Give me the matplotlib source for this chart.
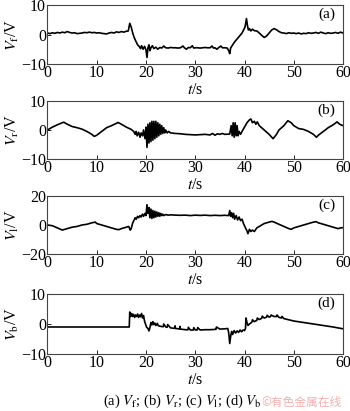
import matplotlib
matplotlib.use("Agg")
import matplotlib.pyplot as plt
import numpy as np

plt.rcParams['font.family'] = ['Liberation Serif', 'DejaVu Serif']
plt.rcParams['mathtext.fontset'] = 'stix'

# ---------------- data ----------------
x_ticks = [0, 10, 20, 30, 40, 50, 60]

vf_t = [0, 0.5, 1, 1.5, 2, 2.5, 3, 3.5, 4, 4.5, 5, 5.5, 6, 6.5, 7, 7.5, 8, 8.5, 9, 9.5,
        10, 10.5, 11, 11.5, 12, 12.5, 13, 13.5, 14, 14.5, 15, 15.5, 16, 16.4, 16.7, 17.0,
        17.3, 17.6, 18.0, 18.3, 18.6, 18.9, 19.1, 19.4, 19.7, 20.0, 20.2, 20.4, 20.6, 20.8,
        21.0, 21.3, 21.6, 22, 22.4, 22.8, 23.2, 23.6, 24, 24.5, 25, 25.5, 26, 26.5, 27,
        27.5, 27.8, 28.2, 28.6, 29, 29.4, 29.7, 30, 30.5, 31, 31.5, 32, 32.5, 33, 33.4,
        33.7, 34, 34.4, 34.8, 35.2, 35.5, 36, 36.5, 36.8, 37.0, 37.2, 37.6, 38, 38.5, 39,
        39.5, 39.8, 40.1, 40.4, 40.6, 40.8, 41.0, 41.3, 41.6, 42, 42.5, 43, 43.5, 44, 44.5,
        45, 45.5, 46, 46.5, 47, 47.5, 48, 48.5, 49, 49.5, 50, 50.5, 51, 51.5, 52, 52.5, 53,
        53.5, 54, 54.5, 55, 55.5, 56, 56.5, 57, 57.5, 58, 58.5, 59, 59.5, 60]
vf_v = [0.5, 0.3, 0.6, 0.4, 0.7, 0.5, 0.8, 0.6, 1.0, 0.7, 0.5, 0.6, 0.3, 0.4, 0.5, 0.7, 0.6, 0.8, 0.6, 0.7,
        0.5, 0.6, 0.4, 0.3, 0.2, 0.5, 0.7, 0.5, 0.9, 0.7, 1.0, 0.8, 1.1, 1.2, 3.8, 2.5,
        0.5, -1.0, -2.5, -3.5, -4.0, -4.8, -3.8, -5.0, -4.0, -5.2, -7.8, -4.5, -3.5, -5.5,
        -4.5, -3.8, -4.8, -4.3, -5.0, -4.4, -4.6, -3.9, -4.5, -4.6, -4.4, -4.5, -4.5, -4.6, -4.5,
        -3.9, -4.5, -5.0, -4.4, -4.5, -3.8, -4.6, -4.5, -4.5, -4.6, -4.5, -4.4, -4.5, -4.5, -3.9,
        -4.6, -4.5, -5.0, -4.4, -3.9, -4.5, -4.5, -4.6, -5.5, -6.5, -4.5, -3.5, -2.5, -1.5, -0.5,
        0.5, 1.5, 2.5, 5.4, 3.0, 1.5, 2.0, 1.2, 1.8, 1.3, 1.2, 0.5, -0.3, -1.0, -0.5,
        0.5, 1.5, 2.0, 1.6, 1.0, 0.6, 0.5, 0.3, 0.6, 0.4, 0.5, 0.3, 0.5, 0.2, 0.4, 0.3, 0.6,
        0.4, 0.5, 0.7, 0.4, 0.8, 0.5, 0.3, 0.6, 0.4, 0.5, 0.7, 0.4, 0.8, 0.5]

vr_t = [0, 1, 2, 3, 3.3, 4, 5, 6, 7, 8, 9, 9.5, 10, 11, 12, 13, 14, 14.3, 15, 16, 17, 17.5,
        17.8, 18.0, 18.2, 18.5, 18.8, 19.0, 19.3, 19.5, 19.8, 20.0, 20.2, 20.4, 20.6, 20.8,
        21.0, 21.2, 21.4, 21.6, 21.8, 22.0, 22.2, 22.4, 22.6, 22.8, 23.0, 23.2, 23.4, 23.6,
        23.8, 24, 24.3, 24.6, 25, 26, 27, 28, 29, 30, 31, 32, 33, 33.5, 34, 34.5, 35, 35.5,
        36, 37, 37.3, 37.5, 37.7, 37.9, 38.1, 38.3, 38.5, 38.7, 38.9, 39.2, 39.5, 40, 40.5,
        41, 41.3, 41.6, 42, 42.3, 42.6, 43, 44, 45, 45.8, 46.5, 47, 48, 48.8, 49.5, 50, 51,
        52, 53, 54, 54.6, 55, 56, 57, 58, 58.8, 59.3, 60]
vr_v = [0, 1.0, 1.8, 2.5, 2.7, 2.0, 1.2, 0.8, 0.3, -0.5, -1.5, -2.2, -1.8, -0.5, 0.8, 1.5, 2.3, 2.6, 2.0, 1.0, 0.2, -0.5,
        -1.5, -0.5, -2.0, -0.8, -2.5, -1.0, -2.0, 0.0, -3.0, 1.0, -6.0, 2.0, -4.5, 2.5,
        -4.0, 3.0, -3.5, 3.0, -3.0, 3.0, -2.5, 2.5, -2.0, 2.0, -1.5, 1.5, -1.2, 0.8,
        -1.0, 0.0, -1.0, -0.5, -1.0, -1.2, -1.3, -1.5, -1.6, -1.7, -1.6, -1.5, -1.7, -1.2, -1.8, -1.3, -1.5, -1.2,
        -1.5, -1.4, 1.5, -2.0, 2.5, -2.5, 2.5, -2.0, 1.5, -2.0, -0.5, -1.5, -0.5, 1.0, 2.5,
        3.5, 3.8, 2.5, 3.0, 2.0, 2.8, 1.5, 0.0, -1.5, -3.0, -1.5, 0.0, 1.5, 3.2, 2.5, 1.5, 0.5,
        0.2, -0.5, -1.5, -2.5, -1.8, -0.5, 0.8, 1.8, 2.8, 2.0, 1.5]

vl_t = [0, 1, 2, 3, 4, 5, 6, 7, 8, 9, 9.7, 10, 11, 12, 13, 14, 14.5, 15, 16, 16.5, 16.8, 17.0,
        17.3, 17.6, 17.8, 18.0, 18.3, 18.5, 18.8, 19.0, 19.3, 19.5, 19.8, 20.0, 20.2, 20.4,
        20.6, 20.8, 21.0, 21.2, 21.4, 21.6, 21.8, 22.0, 22.2, 22.4, 22.6, 22.8, 23.0, 23.2,
        23.4, 23.6, 24, 24.5, 25, 26, 27, 28, 29, 30, 31, 32, 33, 34, 35, 36, 36.8, 37.0,
        37.2, 37.4, 37.6, 37.8, 38.0, 38.3, 38.6, 38.9, 39.2, 39.5, 39.8, 40.2, 40.5, 40.7,
        41.0, 41.3, 41.6, 42.0, 42.5, 43, 44, 45, 45.6, 46, 47, 48, 49, 49.5, 50, 51, 52, 53,
        54, 54.5, 55, 56, 57, 58, 59, 59.5, 60]
vl_v = [0, -0.5, -2.0, -3.5, -2.5, -1.5, -1.0, 0.0, 0.5, 1.5, 2.0, 1.0, 0.0, -1.0, -2.0, -3.0, -3.2, -2.5, -1.5, -1.0, -3.5, -2.5,
        1.5, 3.5, 5.0, 4.0, 6.0, 5.0, 6.5, 5.5, 7.5, 6.0, 8.0, 6.5, 14.0, 8.0,
        12.0, 5.0, 11.0, 4.5, 10.0, 5.0, 9.5, 5.5, 9.0, 6.0, 8.5, 6.0, 8.0, 6.5,
        7.5, 6.5, 7.2, 6.8, 7.0, 6.8, 6.7, 6.8, 6.5, 6.8, 6.6, 6.8, 6.5, 6.7, 6.5, 6.7, 6.5, 10.0,
        6.0, 8.5, 5.0, 8.0, 4.0, 6.5, 3.5, 5.5, 3.0, 4.0, 1.0, -2.0, -4.0, -6.0,
        -3.0, -4.5, -3.5, -4.5, -2.0, -1.0, 1.0, 2.0, 2.5, 2.0, 0.5, -1.0, -2.5, -3.0, -2.0, -1.0, 0.0, 1.0,
        2.0, 2.3, 1.5, 0.5, -0.5, -1.5, -2.5, -2.0, -1.8]

vb_t = [0, 16.6, 16.7, 16.9, 17.1, 17.3, 17.5, 17.7, 17.9, 18.1, 18.3, 18.5, 18.7, 18.9, 19.1,
        19.3, 19.5, 19.7, 19.9, 20.1, 20.4, 20.6, 20.8, 21.0, 21.2, 21.4, 21.6, 21.8, 22.0,
        22.3, 22.5, 22.6, 23.0, 23.5, 23.6, 24, 24.3, 24.4, 25, 25.5, 25.8, 25.9, 26, 26.8,
        26.9, 27, 28, 28.5, 28.6, 29, 29.6, 29.7, 30, 30.4, 30.5, 31, 32, 33, 34, 34.2, 34.3,
        35, 36, 36.6, 36.8, 37.0, 37.2, 37.4, 37.6, 37.9, 38.2, 38.5, 38.8, 39.1, 39.4, 39.7,
        40.0, 40.2, 40.3, 40.5, 40.7, 41, 41.5, 41.6, 42, 42.5, 42.6, 43, 43.5, 43.6, 44,
        44.5, 44.6, 45, 45.3, 45.4, 46, 46.5, 46.6, 47, 47.5, 47.6, 48, 50, 52, 54, 56, 58, 60]
vb_v = [-1.0, -1.0, 4.0, 2.5, 3.5, 2.5, 3.2, 2.2, 3.0, 2.5, 3.3, 2.2, 3.0, 2.4, 3.5,
        2.0, 2.8, 1.0, 0.0, -1.0, -1.5, -2.3, -1.2, 0.5, -0.3, 0.8, -0.2, 0.3, -0.5,
        0.2, -0.6, -0.6, -0.8, -0.9, 0.0, -1.0, -1.1, -0.2, -1.3, -1.4, -1.45, -0.6, -1.5, -1.65,
        -0.8, -1.7, -1.9, -1.95, -1.1, -2.0, -2.0, -1.2, -2.0, -2.0, -1.2, -2.0, -1.9, -1.9, -1.8, -1.8, -1.0,
        -1.7, -1.6, -1.5, -3.0, -6.5, -4.0, -2.5, -3.5, -2.2, -3.0, -2.3, -2.8, -2.0, -2.6, -2.0,
        -2.2, -1.5, 2.0, 0.5, -0.5, 0.0, 0.6, 1.4, 0.8, 1.2, 2.0, 1.5, 1.9, 2.6, 2.0,
        2.3, 2.9, 2.3, 2.5, 3.0, 2.5, 2.5, 3.0, 2.2, 2.0, 2.5, 1.8, 1.0, 0.5, 0.0, -0.5, -1.0, -1.6]

panels = [
    (vf_t, vf_v, (-10, 10), [-10, 0, 10], r'$V_\mathrm{f}$/V', '(a)'),
    (vr_t, vr_v, (-10, 10), [-10, 0, 10], r'$V_\mathrm{r}$/V', '(b)'),
    (vl_t, vl_v, (-20, 20), [-20, 0, 20], r'$V_\mathrm{l}$/V', '(c)'),
    (vb_t, vb_v, (-10, 10), [-10, 0, 10], r'$V_\mathrm{b}$/V', '(d)'),
]
caption = r'(a) $V_\mathrm{f}$; (b) $V_\mathrm{r}$; (c) $V_\mathrm{l}$; (d) $V_\mathrm{b}$'
watermark = '©有色金属在线'

# ---------------- layout ----------------
W, H = 350, 411
fig = plt.figure(figsize=(W / 100, H / 100), dpi=100)
boxes = [(5, 64), (101, 159), (196, 254), (294, 354)]
left, right = 47.5, 343

for (t, v, ylim, yt, ylab, tag), (top, bot) in zip(panels, boxes):
    ax = fig.add_axes([left / W, 1 - bot / H, (right - left) / W, (bot - top) / H])
    ax.plot(t, v, color='black', lw=1.2)
    ax.set_xlim(0, 60)
    ax.set_ylim(*ylim)
    ax.set_xticks(x_ticks)
    ax.set_yticks(yt)
    ax.tick_params(direction='in', length=3, width=0.6, labelsize=11.5, pad=1.0,
                   colors='black')
    for s in ax.spines.values():
        s.set_linewidth(0.8)
        s.set_color('#444444')
    ax.set_xlabel(r'$t$/s', fontsize=11.5, labelpad=0.5)
    ax.set_ylabel(ylab, fontsize=11.5, labelpad=0)
    ax.text(0.975, 0.84, tag, transform=ax.transAxes, ha='right', va='center', fontsize=11)

fig.text(182 / W, 1 - 401 / H, caption, ha='center', va='center', fontsize=10.5)
fig.text(302 / W, 1 - 402 / H, watermark, ha='center', va='center', fontsize=8.5,
         color='#f2b0b0', family=['Noto Sans CJK SC', 'DejaVu Sans'])

fig.savefig('out.png', dpi=100)
